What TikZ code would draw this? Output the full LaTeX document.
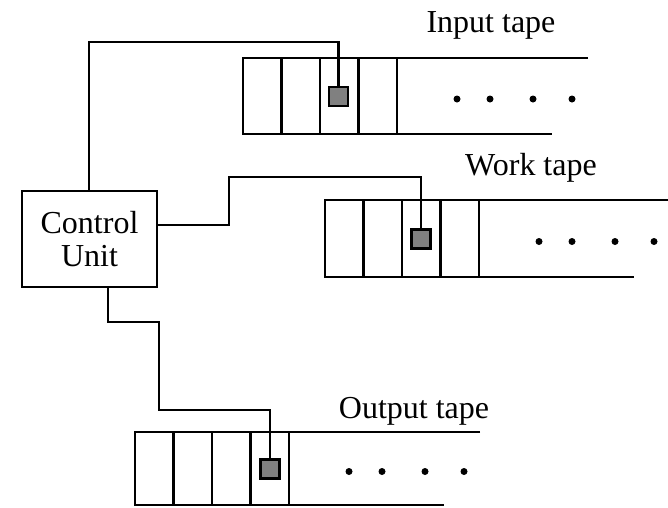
\documentclass[tikz,border=0pt]{standalone}
\usepackage{fontspec}
\setmainfont{Liberation Serif}
\usetikzlibrary{calc}

% A tape: left edge at (#1,#2), height #3; five cells, open to the right
\newcommand\drawtape[3]{%
  \draw[tapeline] (#1+345,#2) -- (#1,#2) -- (#1,#2+#3) -- (#1+309,#2+#3);
  \foreach \k in {1,...,4}
    \draw[tapeline] (#1+38.5*\k,#2) -- (#1+38.5*\k,#2+#3);
  \foreach \d in {214,247,290,329}
    \fill (#1+\d,#2+#3/2+3) circle[radius=3.5];
}

\tikzset{
  tapeline/.style={line width=2.2pt},
  wire/.style={line width=2.2pt},
  headbox/.style={draw, line width=2.2pt, fill=black!50, minimum size=19pt,
    inner sep=0pt},
  unitbox/.style={draw, line width=2.2pt, minimum width=135pt, minimum height=96pt,
    align=center, font=\fontsize{32}{33}\selectfont},
  tapelabel/.style={anchor=base, font=\fontsize{32}{33}\selectfont}
}

\begin{document}
\begin{tikzpicture}[x=1pt, y=-1pt]
  \useasboundingbox (0,0) rectangle (668,507);

  % tapes
  \drawtape{243}{58}{76}
  \drawtape{325}{200}{77}
  \drawtape{135}{432}{73}

  % control unit
  \node[unitbox] (ctrl) at (89.5,239) {Control\\Unit};

  % read/write heads
  \node[headbox] (inhead)   at (338.5,96.5) {};
  \node[headbox] (workhead) at (421,239)    {};
  \node[headbox] (outhead)  at (270,469)    {};

  % tape labels
  \node[tapelabel] (inlabel)   at (491,32)  {Input tape};
  \node[tapelabel] (worklabel) at (531,175) {Work tape};
  \node[tapelabel] (outlabel)  at (414,418) {Output tape};

  % wiring between the control unit and the heads
  \coordinate (inTop) at (338.5,42);
  \draw[wire] (ctrl.north -| 89,0) |- (inTop) -- (inhead.north);

  \coordinate (wA) at (229,225);
  \coordinate (wTop) at (421,177);
  \draw[wire] (ctrl.east |- wA) -- (wA) |- (wTop) -- (workhead.north);

  \coordinate (oA) at (108,322);
  \coordinate (oB) at (159,410);
  \draw[wire] (ctrl.south -| oA) -- (oA) -| (oB) -| (outhead.north);
\end{tikzpicture}
\end{document}
